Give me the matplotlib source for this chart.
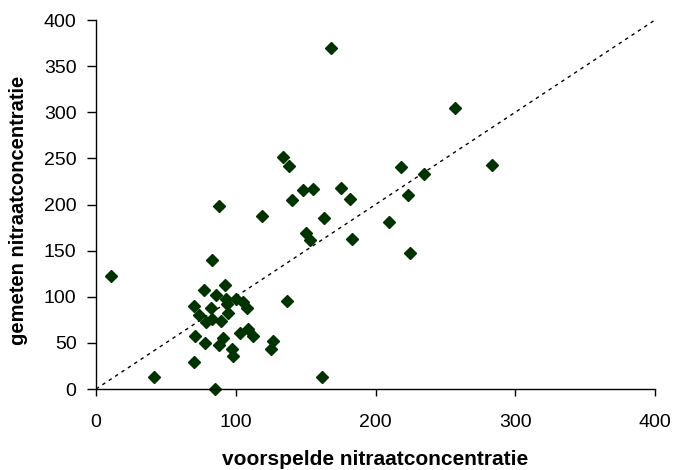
import matplotlib
matplotlib.use("Agg")
import matplotlib.pyplot as plt

plt.rcParams['font.family'] = ['Liberation Sans', 'DejaVu Sans']

voorspeld = [11, 41.6, 70, 85, 71, 78, 88, 91, 97, 98, 103, 109, 112,
             74, 79, 83, 89.5, 94.5, 70, 82, 93, 94, 100, 105, 108,
             77, 92, 86, 83, 88, 119, 126.5, 125.5, 136.7, 162,
             134, 138, 140.5, 148, 155.5, 150, 153, 163, 175.5, 182, 183,
             168, 209.5, 218, 223, 224.6, 235, 257, 283.5]
gemeten = [122, 13, 29, 0, 57, 50, 48, 55, 43, 36, 61, 65, 57,
           80, 73, 76, 74, 82, 89.5, 88, 97.5, 92, 97.5, 94, 88,
           107, 113, 102, 139.5, 198.6, 187, 52, 43, 95, 13,
           252, 242, 205, 216, 217, 169, 161, 185.5, 218, 206, 162.7,
           370, 181.5, 241, 210, 147, 233, 305, 243]
lijn = [0, 400]
xticks = [0, 100, 200, 300, 400]
yticks = [0, 50, 100, 150, 200, 250, 300, 350, 400]

fig = plt.figure(figsize=(6.73, 4.70), dpi=100)
ax = fig.add_axes([96/673, 1-389/470, (655-96)/673, (389-20)/470])

ax.plot(lijn, lijn, color='black', linestyle=(0, (2.5, 3)), linewidth=1, zorder=1)
ax.plot(voorspeld, gemeten, linestyle='none', marker='D', markersize=6.2,
        color='#003300', markeredgecolor='#003300', zorder=2, clip_on=False)

ax.set_xlim(0, 400)
ax.set_ylim(0, 400)
ax.set_xticks(xticks)
ax.set_yticks(yticks)
ax.spines['top'].set_visible(False)
ax.spines['right'].set_visible(False)
for s in ['left', 'bottom']:
    ax.spines[s].set_linewidth(1)
ax.tick_params(axis='both', direction='out', width=1, labelsize=14, colors='black')
ax.tick_params(axis='x', length=5, pad=13)
ax.tick_params(axis='y', length=6.5, pad=7.5)
ax.set_xlabel('voorspelde nitraatconcentratie', fontsize=15, fontweight='bold')
ax.set_ylabel('gemeten nitraatconcentratie', fontsize=14.5, fontweight='bold')
ax.xaxis.set_label_coords(0.5, -0.166)
ax.yaxis.set_label_coords(-0.122, 0.485)

fig.savefig('out.png', dpi=100)
